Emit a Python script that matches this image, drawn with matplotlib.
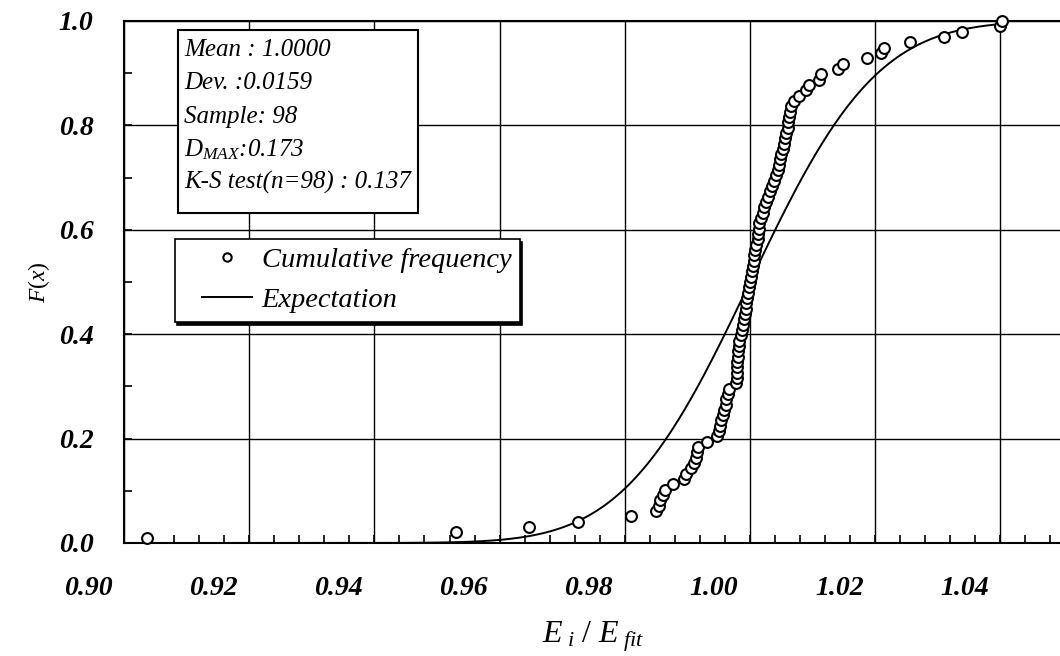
import math
import matplotlib
matplotlib.use("Agg")
import matplotlib.pyplot as plt
import matplotlib.transforms as mtransforms
import numpy as np
from matplotlib.legend_handler import HandlerLine2D
from matplotlib.lines import Line2D
from matplotlib.patches import Rectangle
from matplotlib.ticker import MultipleLocator

# sorted E_i/E_fit values (98 specimens)
ratio = [0.9036, 0.9530, 0.9647, 0.9725, 0.9810,
         0.9850, 0.9854, 0.9857, 0.9861, 0.9865, 0.9877, 0.9895, 0.9898, 0.9906, 0.9911,
         0.9913, 0.9915, 0.9917, 0.9932, 0.9948, 0.9950, 0.9952, 0.9954, 0.9957, 0.9958,
         0.9961, 0.9962, 0.9965, 0.9966, 0.9978, 0.9979, 0.9979, 0.9980, 0.9980, 0.9981,
         0.9981, 0.9982, 0.9983, 0.9985, 0.9987, 0.9989, 0.9990, 0.9992, 0.9993, 0.9994,
         0.9996, 0.9997, 0.9999, 1.0000, 1.0001, 1.0003, 1.0005, 1.0006, 1.0007, 1.0008,
         1.0010, 1.0012, 1.0013, 1.0014, 1.0015, 1.0017, 1.0020, 1.0023, 1.0026, 1.0029,
         1.0032, 1.0035, 1.0038, 1.0041, 1.0044, 1.0046, 1.0048, 1.0050, 1.0052, 1.0054,
         1.0056, 1.0058, 1.0060, 1.0061, 1.0063, 1.0064, 1.0066, 1.0070, 1.0079, 1.0090,
         1.0094, 1.0111, 1.0113, 1.0141, 1.0149, 1.0187, 1.0210, 1.0214, 1.0255, 1.0310,
         1.0339, 1.0400, 1.0403]

mean_val = 1.0000
dev_val = 0.0159
sample_n = 98
d_max = 0.173
ks_crit = 0.137

x_ticks = [0.90, 0.92, 0.94, 0.96, 0.98, 1.00, 1.02, 1.04]
y_ticks = [0.0, 0.2, 0.4, 0.6, 0.8, 1.0]

plt.rcParams["font.family"] = ["Liberation Serif", "DejaVu Serif"]
plt.rcParams["mathtext.fontset"] = "custom"
plt.rcParams["mathtext.it"] = "Liberation Serif:italic"
plt.rcParams["mathtext.rm"] = "Liberation Serif"

x = np.array(ratio)
cum = np.arange(1, len(x) + 1) / sample_n

# normal distribution with the stated mean / deviation
xs = np.linspace(x.min(), x.max(), 400)
expect = np.array([0.5 * (1 + math.erf((v - mean_val) / (dev_val * math.sqrt(2)))) for v in xs])

fig = plt.figure(figsize=(10.6, 6.56), dpi=100)
ax = fig.add_axes([124 / 1060, 1 - 543 / 656, 939 / 1060, 522 / 656])

ax.grid(True, color="black", lw=1.0)
ax.set_axisbelow(True)
ax.plot(xs, expect, "-", color="black", lw=1.4, zorder=3)
ax.plot(x, cum, "o", ms=7.8, mfc="white", mec="black", mew=1.5, ls="none", zorder=4,
        clip_on=False)

ax.set_xlim(0.90, 1.05)
ax.set_ylim(0.0, 1.0)
ax.set_xticks(x_ticks)
ax.set_yticks(y_ticks)
ax.set_xticklabels([f"{t:.2f}" for t in x_ticks], fontsize=20, fontstyle="italic", fontweight="bold")
ax.set_yticklabels([f"{t:.1f}" for t in y_ticks], fontsize=20, fontstyle="italic", fontweight="bold")
ax.xaxis.set_minor_locator(MultipleLocator(0.004))
ax.yaxis.set_minor_locator(MultipleLocator(0.1))
ax.tick_params(which="both", direction="in", length=6, width=1.2, top=False, right=False)
ax.tick_params(axis="x", which="major", pad=24)
ax.tick_params(axis="y", which="major", pad=22)
for s in ["left", "bottom", "top"]:
    ax.spines[s].set_linewidth(1.5)
ax.spines["right"].set_visible(False)

# x labels sit a little left of their ticks
shift = mtransforms.ScaledTranslation(-0.36, 0, fig.dpi_scale_trans)
for lab in ax.get_xticklabels():
    lab.set_transform(lab.get_transform() + shift)

ax.set_xlabel(r"$E_{\ i}\ /\ E_{\ fit}$", fontsize=23, labelpad=13)
ax.set_ylabel(r"$F(x)$", fontsize=17, labelpad=5)

# statistics box
ax.add_patch(Rectangle((0.0575, 0.632), 0.2555, 0.351, transform=ax.transAxes,
                       facecolor="white", edgecolor="black", lw=1.5, zorder=5))
stats = [f"Mean : {mean_val:.4f}",
         f"Dev. :{dev_val:.4f}",
         f"Sample: {sample_n}",
         rf"$D_{{MAX}}$:{d_max:.3f}",
         f"K-S test(n={sample_n}) : {ks_crit:.3f}"]
for k, s in enumerate(stats):
    ax.text(0.064, 0.944 - k * 0.0635, s, transform=ax.transAxes, fontsize=18,
            fontstyle="italic", va="center", ha="left", zorder=6)

handles = [Line2D([], [], ls="none", marker="o", ms=6, mfc="white", mec="black", mew=1.5),
           Line2D([], [], color="black", lw=1.4)]
leg = ax.legend(handles, ["Cumulative frequency", "Expectation"],
                handler_map={Line2D: HandlerLine2D(xpad=0.65)},
                loc="lower left", bbox_to_anchor=(0.054, 0.4234), borderaxespad=0,
                fancybox=False, shadow={"color": "black", "alpha": 1.0}, framealpha=1,
                edgecolor="black", prop={"style": "italic", "size": 20.5},
                handlelength=2.4, handletextpad=0.35, borderpad=0.3, labelspacing=0.5)
leg.get_frame().set_linewidth(1.2)
leg.set_zorder(6)

fig.savefig("out.png", dpi=100)
